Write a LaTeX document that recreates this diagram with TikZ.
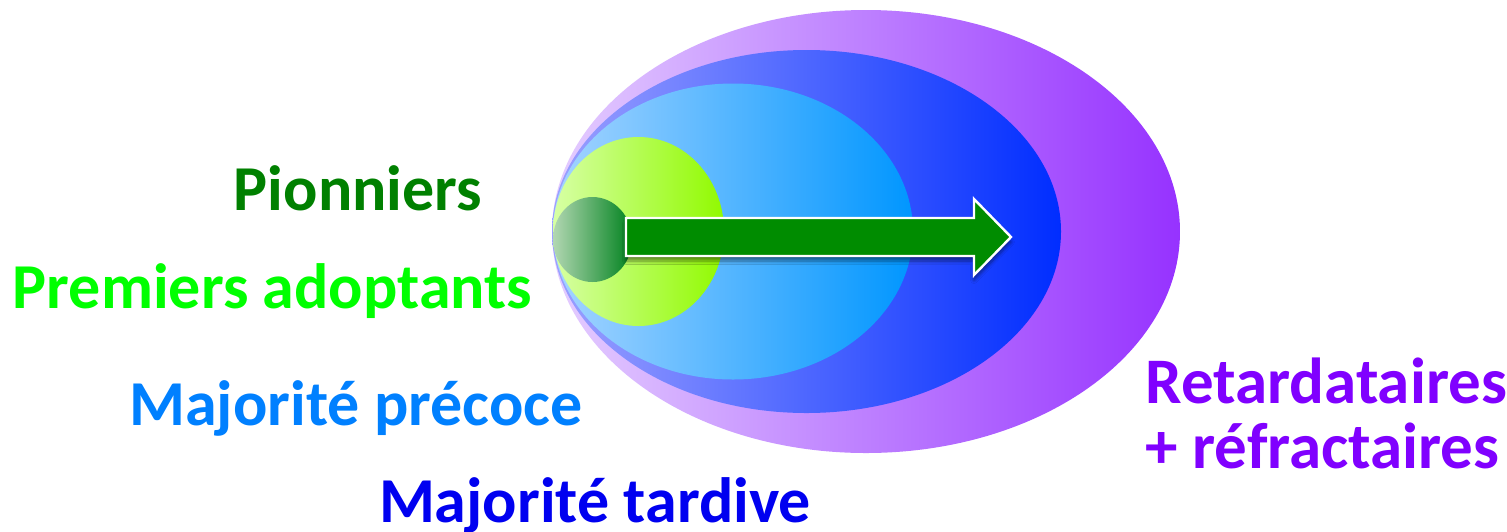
\documentclass[tikz,border=0pt]{standalone}
\usepackage{fontspec}
\newfontfamily\carl{Carlito}
\usetikzlibrary{shadows.blur}
\definecolor{pioncol}{RGB}{0,128,0}
\definecolor{premcol}{RGB}{0,255,0}
\definecolor{precol}{RGB}{0,128,255}
\definecolor{tardcol}{RGB}{0,0,240}
\definecolor{retcol}{RGB}{128,0,255}
\definecolor{purL}{RGB}{228,205,255}
\definecolor{purR}{RGB}{150,50,255}
\definecolor{bluL}{RGB}{155,160,255}
\definecolor{bluR}{RGB}{0,45,255}
\definecolor{lbL}{RGB}{165,212,255}
\definecolor{lbR}{RGB}{0,150,255}
\definecolor{grL}{RGB}{215,255,165}
\definecolor{grR}{RGB}{145,250,0}
\definecolor{dgL}{RGB}{178,215,178}
\definecolor{dgR}{RGB}{0,130,30}
\definecolor{arrowgreen}{RGB}{0,140,0}
\tikzset{
  lbl/.style={font=\carl\bfseries\fontsize{32}{32}\selectfont, inner sep=0pt, anchor=base},
  retlbl/.style={font=\carl\bfseries\fontsize{32.5}{32.5}\selectfont, inner sep=0pt, anchor=base west, text=retcol},
}
\begin{document}
\begin{tikzpicture}[x=0.5pt,y=-0.5pt]
\useasboundingbox (0,0) rectangle (1507,531);
% nested shapes
\path[left color=purL, right color=purR] (866,231.5) ellipse [x radius=157pt, y radius=110.75pt];
\path[left color=bluL, right color=bluR] (806.5,231.5) ellipse [x radius=127.25pt, y radius=90.75pt];
\path[left color=lbL, right color=lbR] (733,231.5) ellipse [x radius=90pt, y radius=74pt];
\path[left color=grL, right color=grR] (638.5,231.5) ellipse [x radius=42.75pt, y radius=47.25pt];
\path[left color=dgL, right color=dgR] (592.5,239.5) ellipse [x radius=19.75pt, y radius=21.25pt];
% arrow
\draw[white, line width=1.2pt, fill=arrowgreen, line join=miter,
      blur shadow={shadow xshift=0pt, shadow yshift=-2.5pt, shadow opacity=45, shadow blur steps=6}]
  (626,218) -- (974,218) -- (974,199) -- (1011,237) -- (974,275) -- (974,256) -- (626,256) -- cycle;
% labels
\node[lbl, text=pioncol] (pion) at (358,210) {Pionniers};
\node[lbl, text=premcol] (prem) at (272.5,308) {Premiers adoptants};
\node[lbl, text=precol] (prec) at (356,425) {Majorité précoce};
\node[lbl, text=tardcol] (tard) at (595,522) {Majorité tardive};
\node[retlbl] (ret1) at (1145,403) {Retardataires};
\node[retlbl] (ret2) at (1145,468) {+ réfractaires};
\end{tikzpicture}
\end{document}
